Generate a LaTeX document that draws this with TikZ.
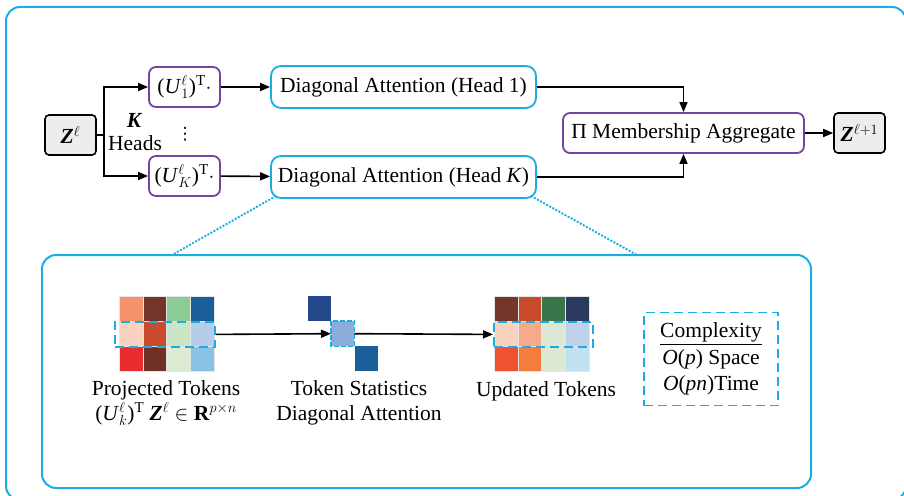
\documentclass[tikz,border=0pt]{standalone}
\usepackage{fontspec}
\setmainfont{Liberation Serif}
\newfontfamily\symfont{DejaVu Sans}
\usetikzlibrary{arrows.meta}
\definecolor{cyanline}{HTML}{19AEE2}
\definecolor{purpleline}{HTML}{7442A2}
\definecolor{zfill}{HTML}{ECEDED}
\definecolor{diagA}{HTML}{24498A}
\definecolor{diagB}{HTML}{8BADDB}
\definecolor{diagC}{HTML}{1A5E9A}
\newcommand{\bz}{\textbf{\textit{Z}}}
\begin{document}
\begin{tikzpicture}[x=1pt,y=-1pt,
  font=\fontsize{21.5}{25}\selectfont,
  line/.style={line width=1.6pt},
  conn/.style={line width=1.6pt,-{Triangle[length=10pt,width=8pt]}},
  pbox/.style={draw=purpleline,line width=1.8pt,rounded corners=7pt,
    minimum width=71pt,minimum height=40pt,inner sep=0pt},
  cbox/.style={draw=cyanline,line width=1.8pt,rounded corners=10pt,
    minimum height=42pt,inner sep=0pt},
  gbox/.style={draw=black,fill=zfill,line width=1.6pt,rounded corners=4pt,
    minimum width=51pt,minimum height=40pt,inner sep=0pt},
  panel/.style={draw=cyanline,line width=2pt,rounded corners=14pt},
  dashrow/.style={draw=cyanline,line width=1.8pt,dash pattern=on 9pt off 5pt,
    minimum width=100pt,minimum height=25pt,inner sep=0pt},
  sq/.style={minimum width=23pt,minimum height=25pt,inner sep=0pt,anchor=north west},
  zoomline/.style={draw=cyanline,line width=1.9pt,dash pattern=on 2pt off 1.5pt},
  cellline/.style={draw=black!10,line width=0.5pt}
]
\useasboundingbox (0,0) rectangle (904,495);

% outer frame and detail panel
\draw[panel] (6,7) rectangle (906,500);
\node[panel,minimum width=769pt,minimum height=233pt,inner sep=0pt] (panel) at (426.5,371.5) {};

% multi-head branch
\node[gbox] (z) at (70.5,135) {\bz$^{\ell}$};
\coordinate (fork) at (104,135);
\node[pbox] (u1) at (184.5,87) {(\textit{U}$^{\ell}_{1}$)\textsuperscript{T}$\cdot$};
\node[pbox] (uk) at (184.5,176) {(\textit{U}$^{\ell}_{K}$)\textsuperscript{T}$\cdot$};
\node[font=\fontsize{21.5}{25}\selectfont\bfseries\itshape] (kk) at (134,120) {K};
\node (heads) at (135,143) {Heads};
\node[font=\fontsize{17}{17}\selectfont\symfont,inner sep=0pt] (dots) at (185,134) {⋮};

\node[cbox,minimum width=265pt] (da1) at (403.5,87) {Diagonal Attention (Head 1)};
\node[cbox,minimum width=265pt] (dak) at (403.5,177) {Diagonal Attention (Head \textit{K})};
\node[pbox,minimum width=241pt] (mem) at (683.5,133) {Π Membership Aggregate};
\node[gbox] (z1) at (859.5,133) {\bz$^{\ell+1}$};

\draw[line] (z.east) -- (fork);
\draw[conn] (fork) |- (u1.west);
\draw[conn] (fork) |- (uk.west);
\draw[conn] (u1) -- (da1);
\draw[conn] (uk) -- (dak);
\draw[conn] (da1.east) -| (mem.north);
\draw[conn] (dak.east) -| (mem.south);
\draw[conn] (mem) -- (z1);

% zoom-in guides
\coordinate (zl) at (172,255);
\coordinate (zr) at (637,255);
\draw[zoomline] ([xshift=6pt,yshift=3pt]dak.south west) -- (zl);
\draw[zoomline] ([xshift=-6pt,yshift=3pt]dak.south east) -- (zr);

% projected tokens
\foreach \c [count=\i from 0] in {F4926B,73352A,8DCB95,1A5E9A,FAD3C0,C94A2C,CBE6C6,B7CCE8,E92D2F,6F3028,DCEBD4,88C3E6}{
  \pgfmathtruncatemacro\cc{mod(\i,4)}
  \pgfmathtruncatemacro\rr{\i/4}
  \definecolor{cellc}{HTML}{\c}
  \filldraw[fill=cellc,cellline] ({119+\cc*23.75},{296+\rr*25}) rectangle ++(23.75,25);
}
\node[dashrow,anchor=north west] (projrow) at (114,321) {};

% diagonal statistics
\node[sq,fill=diagA] (d1) at (308,296) {};
\node[sq,fill=diagB] (d2) at (331,321) {};
\draw[cyanline,line width=1.6pt,dash pattern=on 5pt off 2pt] (d2.north west) rectangle (d2.south east);
\node[sq,fill=diagC] (d3) at (355,346) {};

% updated tokens
\foreach \c [count=\i from 0] in {74352A,C84A2C,3A764A,2A3A5E,F9D3C0,F7AA8A,DCE8D3,BFD1E8,EE5230,F47D3E,DCE8D0,C0E2F3}{
  \pgfmathtruncatemacro\cc{mod(\i,4)}
  \pgfmathtruncatemacro\rr{\i/4}
  \definecolor{cellc}{HTML}{\c}
  \filldraw[fill=cellc,cellline] ({494+\cc*23.75},{296+\rr*25}) rectangle ++(23.75,25);
}
\node[dashrow,minimum width=99pt,anchor=north west] (updrow) at (493,321) {};

\draw[conn] (projrow.east) -- (d2.west);
\draw[conn] (d2.east) -- (updrow.west);

% captions
\node[align=center] (lproj) at (166,403) {Projected Tokens\\(\textit{U}$^{\ell}_{k}$)\textsuperscript{T} \bz$^{\ell}$ $\in$ \textbf{R}$^{p\times n}$};
\node[align=center] (lstat) at (359,403) {Token Statistics\\Diagonal Attention};
\node (lupd) at (546,391) {Updated Tokens};

% complexity note
\node[dashrow,minimum width=134pt,minimum height=93pt,align=center,
  font=\fontsize{21.5}{26.5}\selectfont] (cx) at (711,359)
  {\underline{Complexity}\\\textit{O}(\textit{p}) Space\\\textit{O}(\textit{pn})Time};
\end{tikzpicture}
\end{document}
